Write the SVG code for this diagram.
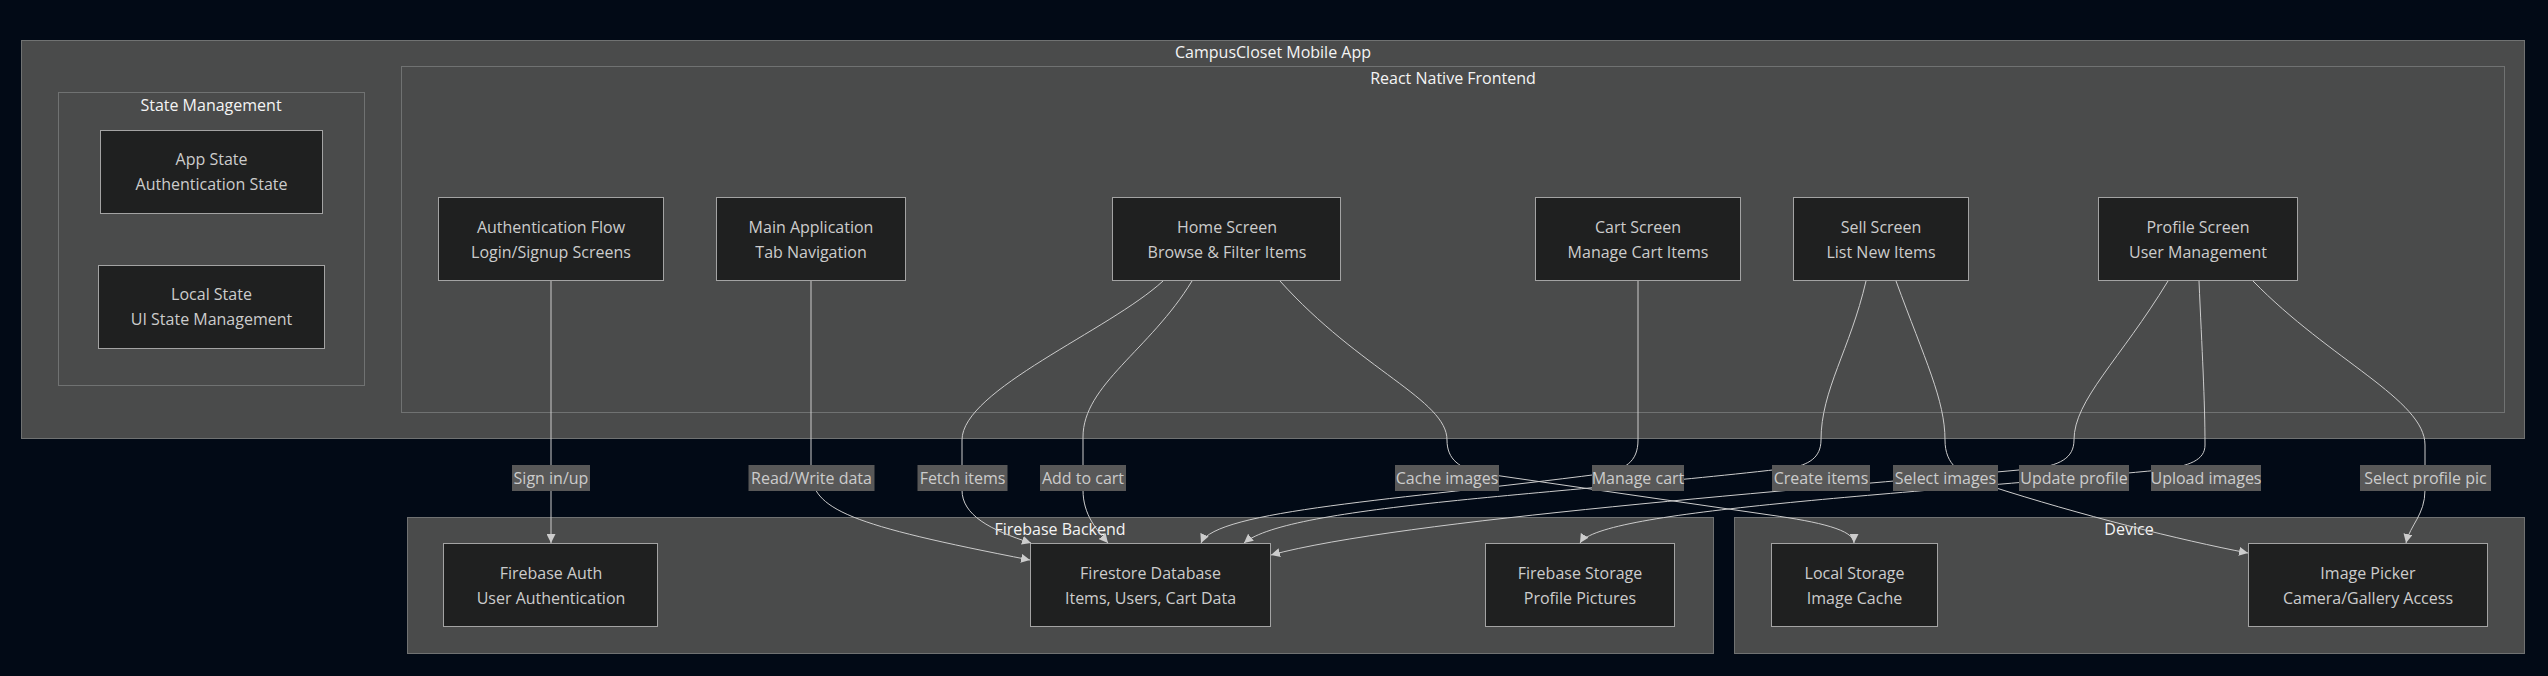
<svg xmlns="http://www.w3.org/2000/svg" width="2548" height="676" viewBox="0 0 2548 676">
<style>
.cl{fill:#4a4b4b;stroke:#707272;stroke-width:1}
.ct{font-family:"Open Sans","Liberation Sans",sans-serif;font-size:16px;fill:#f4f4f4;text-anchor:middle}
.nd{fill:#1f2020;stroke:#a3a3a3;stroke-width:1}
.nt{font-family:"Open Sans","Liberation Sans",sans-serif;font-size:16px;fill:#cccccc;text-anchor:middle}
.e{fill:none;stroke:#cccccc;stroke-width:1;marker-end:url(#arr)}
.lb{fill:#585858}
.lt{font-family:"Open Sans","Liberation Sans",sans-serif;font-size:16px;fill:#cccccc;text-anchor:middle}
</style>
<defs>
<marker id="arr" viewBox="0 0 10 10" refX="10" refY="5" markerUnits="userSpaceOnUse" markerWidth="9" markerHeight="9" orient="auto">
<path d="M0,0 L10,5 L0,10 z" fill="#cccccc"/>
</marker>
</defs>
<rect x="0" y="0" width="2548" height="676" fill="#020a16"/>

<g id="cluster-app">
<rect class="cl" x="21.5" y="40.5" width="2503" height="398"/>
<text class="ct" x="1273" y="58">CampusCloset Mobile App</text>
</g>
<g id="cluster-state">
<rect class="cl" x="58.5" y="92.5" width="306" height="293"/>
<text class="ct" x="211" y="111">State Management</text>
</g>
<g id="cluster-frontend">
<rect class="cl" x="401.5" y="66.5" width="2103" height="346"/>
<text class="ct" x="1453" y="84">React Native Frontend</text>
</g>
<g id="cluster-backend">
<rect class="cl" x="407.5" y="517.5" width="1306" height="136"/>
<text class="ct" x="1060" y="535">Firebase Backend</text>
</g>
<g id="cluster-device">
<rect class="cl" x="1734.5" y="517.5" width="790" height="136"/>
<text class="ct" x="2129" y="535">Device</text>
</g>

<g id="AppState">
<rect class="nd" x="100.5" y="130.5" width="222" height="83"/>
<text class="nt" x="211.5" y="165">App State</text>
<text class="nt" x="211.5" y="190">Authentication State</text>
</g>
<g id="LocalState">
<rect class="nd" x="98.5" y="265.5" width="226" height="83"/>
<text class="nt" x="211.5" y="300">Local State</text>
<text class="nt" x="211.5" y="325">UI State Management</text>
</g>
<g id="AuthFlow">
<rect class="nd" x="438.5" y="197.5" width="225" height="83"/>
<text class="nt" x="551" y="233">Authentication Flow</text>
<text class="nt" x="551" y="258">Login/Signup Screens</text>
</g>
<g id="MainApp">
<rect class="nd" x="716.5" y="197.5" width="189" height="83"/>
<text class="nt" x="811" y="233">Main Application</text>
<text class="nt" x="811" y="258">Tab Navigation</text>
</g>
<g id="HomeScreen">
<rect class="nd" x="1112.5" y="197.5" width="228" height="83"/>
<text class="nt" x="1227" y="233">Home Screen</text>
<text class="nt" x="1227" y="258">Browse &amp; Filter Items</text>
</g>
<g id="CartScreen">
<rect class="nd" x="1535.5" y="197.5" width="205" height="83"/>
<text class="nt" x="1638" y="233">Cart Screen</text>
<text class="nt" x="1638" y="258">Manage Cart Items</text>
</g>
<g id="SellScreen">
<rect class="nd" x="1793.5" y="197.5" width="175" height="83"/>
<text class="nt" x="1881" y="233">Sell Screen</text>
<text class="nt" x="1881" y="258">List New Items</text>
</g>
<g id="ProfileScreen">
<rect class="nd" x="2098.5" y="197.5" width="199" height="83"/>
<text class="nt" x="2198" y="233">Profile Screen</text>
<text class="nt" x="2198" y="258">User Management</text>
</g>
<g id="FirebaseAuth">
<rect class="nd" x="443.5" y="543.5" width="214" height="83"/>
<text class="nt" x="551" y="579">Firebase Auth</text>
<text class="nt" x="551" y="604">User Authentication</text>
</g>
<g id="Firestore">
<rect class="nd" x="1030.5" y="543.5" width="240" height="83"/>
<text class="nt" x="1150.5" y="579">Firestore Database</text>
<text class="nt" x="1150.5" y="604">Items, Users, Cart Data</text>
</g>
<g id="FirebaseStorage">
<rect class="nd" x="1485.5" y="543.5" width="189" height="83"/>
<text class="nt" x="1580" y="579">Firebase Storage</text>
<text class="nt" x="1580" y="604">Profile Pictures</text>
</g>
<g id="LocalStorage">
<rect class="nd" x="1771.5" y="543.5" width="166" height="83"/>
<text class="nt" x="1854.5" y="579">Local Storage</text>
<text class="nt" x="1854.5" y="604">Image Cache</text>
</g>
<g id="ImagePicker">
<rect class="nd" x="2248.5" y="543.5" width="239" height="83"/>
<text class="nt" x="2368" y="579">Image Picker</text>
<text class="nt" x="2368" y="604">Camera/Gallery Access</text>
</g>

<g id="connectors">
<path class="e" d="M551,281 L551,543"/>
<path class="e" d="M811,281 L811,470 C811,510 850,525 1030,560"/>
<path class="e" d="M1163,281 C1110,330 962,390 962,440 L962,490 C962,515 990,530 1031,543"/>
<path class="e" d="M1192,281 C1150,350 1083,385 1083,437 L1083,490 C1083,515 1097,530 1108,543"/>
<path class="e" d="M1280,281 C1360,370 1447,400 1447,440 C1447,460 1460,468 1480,473 L1770,515 C1820,522 1854,530 1854,543"/>
<path class="e" d="M1638,281 L1638,440 C1638,462 1625,470 1600,474 C1400,500 1215,510 1201,543"/>
<path class="e" d="M1866,281 C1850,350 1821,390 1821,440 C1821,458 1808,465 1790,468 C1560,495 1290,505 1244,543"/>
<path class="e" d="M1896,281 C1925,360 1945,400 1945,440 C1945,465 1960,475 1990,486 C2080,515 2180,540 2248,553"/>
<path class="e" d="M2168,281 C2120,360 2074,400 2074,440 C2074,458 2060,466 2030,469 C1800,490 1400,520 1271,555"/>
<path class="e" d="M2199,281 C2202,350 2205,400 2205,445 C2205,460 2190,466 2160,470 C1900,495 1600,510 1580,543"/>
<path class="e" d="M2253,281 C2330,360 2425,400 2425,445 L2425,490 C2425,515 2410,525 2406,543"/>
</g>

<g id="edge-labels">
<rect class="lb" x="512" y="465" width="78" height="26"/><text class="lt" x="551" y="484">Sign in/up</text>
<rect class="lb" x="748.5" y="465" width="126" height="26"/><text class="lt" x="811.5" y="484">Read/Write data</text>
<rect class="lb" x="917.5" y="465" width="90" height="26"/><text class="lt" x="962.5" y="484">Fetch items</text>
<rect class="lb" x="1040" y="465" width="86" height="26"/><text class="lt" x="1083" y="484">Add to cart</text>
<rect class="lb" x="1395" y="465" width="104" height="26"/><text class="lt" x="1447" y="484">Cache images</text>
<rect class="lb" x="1592" y="465" width="92" height="26"/><text class="lt" x="1638" y="484">Manage cart</text>
<rect class="lb" x="1772" y="465" width="98" height="26"/><text class="lt" x="1821" y="484">Create items</text>
<rect class="lb" x="1893" y="465" width="105" height="26"/><text class="lt" x="1945.5" y="484">Select images</text>
<rect class="lb" x="2019" y="465" width="110" height="26"/><text class="lt" x="2074" y="484">Update profile</text>
<rect class="lb" x="2151" y="465" width="110" height="26"/><text class="lt" x="2206" y="484">Upload images</text>
<rect class="lb" x="2360" y="465" width="131" height="26"/><text class="lt" x="2425.5" y="484">Select profile pic</text>
</g>
</svg>
